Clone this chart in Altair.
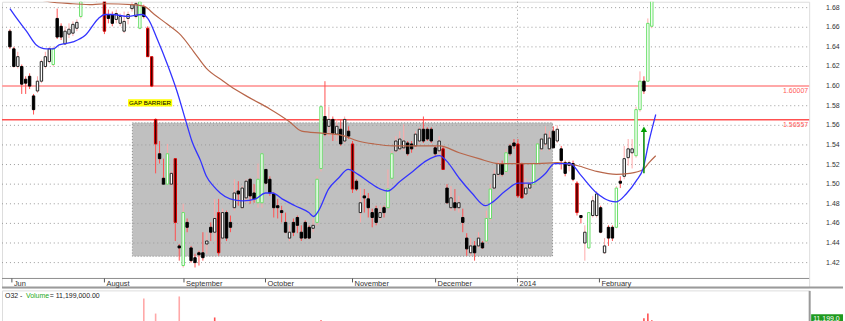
import altair as alt
import pandas as pd

# ---------------- data ----------------
kind = ["b","b","w","b","b","b","b","w","w","w",
        "w","g","b","b","w","w","w","w","g","w",
        "b","w","b","w","r","b","b","w","w","w",
        "w","w","w","g","b","r","r","r","b","b",
        "g","w","r","b","g","b","b","b","b","b",
        "w","b","w","r","w","b","b","w","b","w",
        "w","b","b","g","g","b","b","b","b","b",
        "b","w","b","b","b","b","b","w","g","g",
        "b","w","b","w","b","w","b","r","b","w",
        "b","b","b","b","w","b","g","g","w","w",
        "w","b","b","w","w","b","b","b","b","w",
        "r","b","w","b","w","b","b","w","b","w",
        "b","g","g","w","w","b","g","b","b","r",
        "r","w","w","g","g","w","w","w","b","w",
        "b","b","w","b","r","b","w","g","w","w",
        "b","w","b","b","g","b","w","w","w","g",
        "g","b","g","g"]
opens = [1.656,1.638,1.620,1.620,1.607,1.610,1.590,1.595,1.605,1.620,
         1.625,1.622,1.669,1.661,1.643,1.653,1.654,1.659,1.671,1.688,
         1.696,1.689,1.694,1.690,1.692,1.673,1.673,1.668,1.664,1.656,
         1.669,1.679,1.671,1.659,1.681,1.659,1.630,1.566,1.531,1.506,
         1.500,1.500,1.526,1.437,1.417,1.461,1.435,1.425,1.430,1.430,
         1.439,1.456,1.451,1.471,1.445,1.471,1.461,1.476,1.493,1.476,
         1.486,1.505,1.491,1.481,1.481,1.515,1.505,1.490,1.478,1.473,
         1.461,1.445,1.461,1.466,1.451,1.461,1.456,1.455,1.461,1.516,
         1.569,1.559,1.566,1.551,1.556,1.544,1.554,1.541,1.503,1.471,
         1.488,1.485,1.471,1.475,1.466,1.476,1.476,1.506,1.534,1.536,
         1.537,1.542,1.541,1.539,1.544,1.556,1.556,1.556,1.537,1.534,
         1.536,1.496,1.476,1.481,1.476,1.466,1.445,1.430,1.437,1.437,
         1.440,1.442,1.465,1.496,1.510,1.521,1.513,1.539,1.542,1.541,
         1.521,1.490,1.496,1.500,1.521,1.536,1.541,1.536,1.554,1.544,
         1.536,1.522,1.519,1.521,1.501,1.468,1.440,1.435,1.468,1.468,
         1.476,1.430,1.456,1.456,1.456,1.503,1.508,1.527,1.532,1.529,
         1.576,1.605,1.605,1.661]
highs = [1.658,1.640,1.635,1.622,1.610,1.613,1.592,1.610,1.627,1.635,
         1.640,1.640,1.679,1.664,1.661,1.664,1.666,1.668,1.691,1.697,
         1.699,1.697,1.697,1.699,1.694,1.678,1.676,1.678,1.674,1.676,
         1.676,1.686,1.686,1.689,1.683,1.661,1.630,1.567,1.544,1.526,
         1.541,1.513,1.526,1.439,1.480,1.465,1.437,1.429,1.432,1.451,
         1.451,1.461,1.485,1.485,1.475,1.473,1.468,1.505,1.503,1.498,
         1.505,1.506,1.500,1.521,1.531,1.515,1.508,1.492,1.485,1.478,
         1.471,1.458,1.465,1.468,1.458,1.463,1.458,1.465,1.508,1.579,
         1.605,1.579,1.569,1.566,1.566,1.569,1.559,1.544,1.505,1.496,
         1.495,1.491,1.475,1.478,1.478,1.478,1.515,1.534,1.549,1.554,
         1.561,1.544,1.544,1.554,1.558,1.569,1.558,1.558,1.539,1.549,
         1.539,1.500,1.498,1.495,1.488,1.475,1.450,1.445,1.442,1.451,
         1.442,1.473,1.500,1.515,1.524,1.524,1.536,1.541,1.546,1.546,
         1.522,1.506,1.503,1.522,1.542,1.547,1.559,1.554,1.559,1.560,
         1.539,1.524,1.524,1.524,1.503,1.468,1.458,1.471,1.488,1.493,
         1.478,1.445,1.458,1.458,1.498,1.508,1.539,1.546,1.546,1.579,
         1.615,1.610,1.669,1.694]
lows = [1.638,1.619,1.618,1.592,1.592,1.597,1.571,1.593,1.603,1.618,
        1.623,1.620,1.648,1.647,1.642,1.649,1.651,1.656,1.669,1.686,
        1.688,1.687,1.686,1.687,1.653,1.664,1.661,1.664,1.661,1.654,
        1.663,1.676,1.669,1.658,1.669,1.630,1.599,1.511,1.521,1.500,
        1.500,1.498,1.442,1.422,1.415,1.451,1.420,1.415,1.417,1.422,
        1.429,1.442,1.442,1.427,1.444,1.442,1.451,1.473,1.478,1.475,
        1.481,1.480,1.481,1.476,1.476,1.500,1.488,1.466,1.465,1.461,
        1.450,1.442,1.447,1.450,1.442,1.444,1.444,1.451,1.458,1.513,
        1.549,1.549,1.544,1.544,1.539,1.542,1.546,1.491,1.493,1.461,
        1.471,1.466,1.456,1.458,1.463,1.466,1.475,1.505,1.532,1.534,
        1.534,1.529,1.532,1.536,1.542,1.542,1.544,1.542,1.528,1.531,
        1.515,1.480,1.473,1.473,1.471,1.451,1.427,1.427,1.422,1.435,
        1.434,1.440,1.463,1.495,1.508,1.508,1.511,1.529,1.536,1.486,
        1.485,1.488,1.493,1.498,1.521,1.534,1.539,1.534,1.537,1.542,
        1.515,1.508,1.513,1.503,1.468,1.460,1.422,1.434,1.466,1.466,
        1.450,1.429,1.437,1.442,1.455,1.496,1.505,1.519,1.516,1.527,
        1.574,1.592,1.605,1.659]
closes = [1.640,1.620,1.630,1.602,1.603,1.600,1.576,1.605,1.625,1.630,
          1.638,1.638,1.650,1.650,1.656,1.658,1.663,1.665,1.686,1.694,
          1.690,1.695,1.688,1.696,1.656,1.669,1.664,1.674,1.671,1.666,
          1.673,1.683,1.684,1.686,1.671,1.630,1.600,1.541,1.526,1.500,
          1.531,1.511,1.461,1.435,1.471,1.456,1.422,1.420,1.428,1.425,
          1.442,1.451,1.465,1.430,1.471,1.445,1.456,1.491,1.490,1.496,
          1.503,1.488,1.485,1.505,1.531,1.501,1.491,1.476,1.476,1.471,
          1.451,1.451,1.451,1.458,1.445,1.445,1.445,1.458,1.505,1.579,
          1.551,1.566,1.552,1.559,1.541,1.566,1.549,1.495,1.495,1.481,
          1.486,1.476,1.466,1.461,1.471,1.471,1.495,1.531,1.544,1.546,
          1.544,1.531,1.536,1.551,1.556,1.544,1.546,1.544,1.531,1.544,
          1.515,1.481,1.486,1.476,1.481,1.461,1.434,1.437,1.430,1.445,
          1.435,1.465,1.495,1.510,1.521,1.510,1.532,1.531,1.539,1.488,
          1.486,1.496,1.500,1.521,1.541,1.546,1.551,1.547,1.537,1.556,
          1.524,1.511,1.522,1.505,1.471,1.466,1.451,1.471,1.483,1.490,
          1.451,1.437,1.445,1.445,1.496,1.501,1.526,1.536,1.536,1.576,
          1.605,1.595,1.664,1.691]

blue_idx = [0,1.75,4.2,6.7,9.2,11,12.5,16,19.2,22.5,24.2,26,30,33.5,35,37.4,40,42.4,44.7,46.2,
            48.4,49.9,51.7,53.4,55.9,59.2,62.4,64.9,66.7,69.1,72.4,75.9,77.1,78.4,80.9,83.4,85.9,
            88.4,90.9,94.1,95.9,99.1,102.3,105.8,109.1,110.8,114.1,117.3,120.8,122.3,125.8,129.1,
            132.3,135.8,138.3,142.3,144.8,149,152.3,154,156.5,159,160.8,162.3,164]
blue_val = [1.679,1.669,1.656,1.642,1.638,1.638,1.642,1.645,1.652,1.669,1.673,1.673,1.671,1.673,
            1.669,1.648,1.622,1.595,1.564,1.544,1.524,1.508,1.498,1.491,1.485,1.483,1.485,1.491,
            1.491,1.485,1.478,1.471,1.467,1.473,1.495,1.506,1.515,1.510,1.503,1.495,1.493,1.503,
            1.513,1.524,1.529,1.524,1.506,1.491,1.478,1.481,1.493,1.501,1.501,1.510,1.521,1.521,
            1.510,1.491,1.483,1.482,1.490,1.503,1.516,1.544,1.571]
brown_idx = [6.7,10,16,21,24.2,31,34.2,36.7,40,43.4,46.7,49.9,54.2,55.9,60.9,65.9,70.9,74.1,79.1,
             84.1,88.4,92.4,97.4,104.1,109.1,114.1,119.1,124.1,129.1,134,139,144,149,154,157.3,
             160.8,162.3,164]
brown_val = [1.689,1.686,1.684,1.683,1.684,1.683,1.681,1.673,1.663,1.652,1.635,1.618,1.605,1.600,
             1.588,1.577,1.564,1.554,1.552,1.550,1.544,1.541,1.539,1.539,1.539,1.532,1.526,1.521,
             1.521,1.521,1.522,1.519,1.513,1.510,1.511,1.515,1.522,1.529]

months = ["Jun", "August", "September", "October", "November", "December", "2014", "February"]
month_pos = [0.5, 24.0, 44.2, 64.9, 87.0, 108.1, 128.9, 149.7]
year_pos = [128.9]

grid_levels = [1.42, 1.44, 1.46, 1.48, 1.50, 1.52, 1.54, 1.56, 1.58, 1.60, 1.62, 1.64, 1.66, 1.68]
grid_labels = ["1.42", "1.44", "1.46", "1.48", "1.50", "1.52", "1.54", "1.56", "1.58", "1.60",
               "1.62", "1.64", "1.66", "1.68"]
level_vals = [1.60007, 1.56557]
level_names = ["1.60007", "1.56557"]
level_kind = ["pink", "red"]

box_idx = [31.1, 137.8]
box_price = [1.5625, 1.4265]

gap_text = ["GAP BARRIER"]
gap_idx = [30.0]
gap_idx_end = [41.2]
gap_price = [1.5828]
gap_top = [1.5866]
gap_bot = [1.5791]

arrow_idx = [161]
arrow_low = [1.511]
arrow_tip = [1.556]

vol_idx = [34, 35, 37, 42, 43, 52, 79, 161, 162, 163]
vol_val = [72, 4, 30, 8, 78, 19, 11, 17, 30, 11.199]
vol_dir = ["down", "down", "down", "down", "down", "up", "up", "up", "up", "up"]

# ---------------- frames ----------------
candles = pd.DataFrame({"idx": list(range(len(kind))), "kind": kind, "open": opens,
                        "high": highs, "low": lows, "close": closes})
blue = pd.DataFrame({"idx": blue_idx, "v": blue_val})
brown = pd.DataFrame({"idx": brown_idx, "v": brown_val})
mon = pd.DataFrame({"pos": month_pos, "label": months})
grid = pd.DataFrame({"lv": grid_levels, "lab": grid_labels})
levels = pd.DataFrame({"lv": level_vals, "name": level_names, "k": level_kind})
box = pd.DataFrame({"x1": [box_idx[0]], "x2": [box_idx[1]], "y1": [box_price[0]], "y2": [box_price[1]]})
gap = pd.DataFrame({"idx": gap_idx, "idx2": gap_idx_end, "p": gap_price, "top": gap_top,
                    "bot": gap_bot, "t": gap_text})
arrow = pd.DataFrame({"idx": arrow_idx, "lo": arrow_low, "tip": arrow_tip})
vol = pd.DataFrame({"idx": vol_idx, "v": vol_val, "d": vol_dir})
year = pd.DataFrame({"pos": year_pos})

FONT = "Liberation Sans"
W = 811
H = 287
xs = alt.Scale(domain=[-0.75, 201.7], nice=False, zero=False)
ys = alt.Scale(domain=[1.3947, 1.686], nice=False, zero=False)
yaxis = alt.Axis(orient="right", values=grid_levels, title=None, grid=False, labels=False,
                 ticks=True, tickSize=2, tickColor="#777777",
                 domainColor="#9a9a9a", domainWidth=2)

def X(f):
    return alt.X(f, type="quantitative", scale=xs, axis=None)

def Y(f, axis=None):
    return alt.Y(f, type="quantitative", scale=ys, axis=axis)

kinds_dom = ["w", "b", "g", "r"]

rect = alt.Chart(box).mark_rect(fill="#c0c0c0", stroke="#8a8a8a", strokeDash=[1, 2],
                                strokeWidth=1).encode(
    x=X("x1"), x2="x2", y=Y("y1", yaxis), y2="y2")

gridl = alt.Chart(grid).mark_rule(color="#9a9a9a", strokeDash=[1, 3], strokeWidth=1).encode(
    y=Y("lv"), x=alt.value(0), x2=alt.value(W))

gridt = alt.Chart(grid).mark_text(align="left", baseline="middle", fontSize=7, font=FONT,
                                  color="#333333").encode(
    y=Y("lv"), x=alt.value(828), text="lab:N")

yearl = alt.Chart(year).mark_rule(color="#9a9a9a", strokeDash=[1, 3], strokeWidth=1).encode(
    x=X("pos"), y=alt.value(0), y2=alt.value(H))

levl = alt.Chart(levels).mark_rule().encode(
    y=Y("lv"), x=alt.value(0), x2=alt.value(W),
    color=alt.Color("k:N", scale=alt.Scale(domain=["pink", "red"], range=["#ffa8a8", "#ff5050"]), legend=None),
    strokeWidth=alt.StrokeWidth("k:N", scale=alt.Scale(domain=["pink", "red"], range=[2, 1.5]), legend=None))

levt = alt.Chart(levels).mark_text(align="right", baseline="top", dy=1, fontSize=7, font=FONT,
                                   color="#ff5a5a").encode(
    y=Y("lv"), x=alt.value(810), text="name:N")

wicks = alt.Chart(candles).mark_rule(strokeWidth=1, clip=True).encode(
    x=X("idx"), y=Y("low"), y2="high",
    color=alt.Color("kind:N", scale=alt.Scale(domain=kinds_dom,
                    range=["#444444", "#222222", "#66e066", "#ff3030"]), legend=None))

bodies = alt.Chart(candles).mark_bar(size=2.4, strokeWidth=1, clip=True).encode(
    x=X("idx"), y=Y("open"), y2="close",
    fill=alt.Fill("kind:N", scale=alt.Scale(domain=kinds_dom,
                  range=["#ffffff", "#000000", "#ffffff", "#3a0000"]), legend=None),
    stroke=alt.Stroke("kind:N", scale=alt.Scale(domain=kinds_dom,
                      range=["#222222", "#000000", "#66e066", "#e00000"]), legend=None))

blue_line = alt.Chart(blue).mark_line(color="#3333ff", strokeWidth=1.3, clip=True,
                                      interpolate="monotone").encode(x=X("idx"), y=Y("v"))
brown_line = alt.Chart(brown).mark_line(color="#b8664a", strokeWidth=1.2, clip=True,
                                        interpolate="monotone").encode(x=X("idx"), y=Y("v"))

arrow_stem = alt.Chart(arrow).mark_rule(color="#008800", strokeWidth=1.5).encode(
    x=X("idx"), y=Y("lo"), y2="tip")
arrow_head = alt.Chart(arrow).mark_point(shape="triangle-up", filled=True, color="#00a000",
                                         size=40, opacity=1).encode(x=X("idx"), y=Y("tip"))

gap_bg = alt.Chart(gap).mark_rect(color="#ffff00").encode(
    x=X("idx"), x2="idx2", y=Y("top"), y2="bot")
gap_txt = alt.Chart(gap).mark_text(align="left", baseline="middle", dx=1, fontSize=6.2, font=FONT,
                                   color="#000000").encode(x=X("idx"), y=Y("p"), text="t:N")

band1 = alt.Chart(year).mark_rule(color="#8c8c8c", strokeWidth=1).encode(
    x=alt.value(0), x2=alt.value(W), y=alt.value(278))
band2 = alt.Chart(year).mark_rule(color="#9a9a9a", strokeWidth=2).encode(
    x=alt.value(0), x2=alt.value(845), y=alt.value(287))
mticks = alt.Chart(mon).mark_rule(color="#555555", strokeWidth=1).encode(
    x=X("pos"), y=alt.value(278), y2=alt.value(282))
mlabels = alt.Chart(mon).mark_text(align="left", baseline="middle", dx=2, dy=1, fontSize=7.5,
                                   font=FONT, color="#333333").encode(
    x=X("pos"), y=alt.value(282.5), text="label:N")

top = alt.layer(rect, gridl, yearl, levl, wicks, bodies, brown_line, blue_line, arrow_stem,
                arrow_head, levt, gap_bg, gap_txt, gridt, band1, band2, mticks, mlabels).properties(
    width=W, height=H)

# ---------------- volume panel ----------------
vs = alt.Scale(domain=[0, 95], nice=False, zero=True)
vaxis = alt.Axis(orient="right", title=None, labels=False, ticks=False, grid=False,
                 domainColor="#9a9a9a", domainWidth=2)
vbars = alt.Chart(vol).mark_bar(size=1.6).encode(
    x=X("idx"), y=alt.Y("v:Q", scale=vs, axis=vaxis),
    color=alt.Color("d:N", scale=alt.Scale(domain=["down", "up"], range=["#ff5a5a", "#33b033"]), legend=None))

t1 = alt.Chart(year).mark_text(align="left", baseline="middle", fontSize=7, font=FONT,
                               color="#222222", text="O32 - ").encode(x=alt.value(3), y=alt.value(5.5))
t2 = alt.Chart(year).mark_text(align="left", baseline="middle", fontSize=7, font=FONT,
                               color="#22aa22", text="Volume").encode(x=alt.value(24), y=alt.value(5.5))
t3 = alt.Chart(year).mark_text(align="left", baseline="middle", fontSize=7, font=FONT,
                               color="#222222", text="= 11,199,000.00").encode(x=alt.value(48), y=alt.value(5.5))
vbox = alt.Chart(year).mark_rect(color="#1f9a1f").encode(
    x=alt.value(813), x2=alt.value(845), y=alt.value(24), y2=alt.value(34))
vtxt = alt.Chart(year).mark_text(align="left", baseline="middle", fontSize=7, font=FONT,
                                 color="#ffffff", text="11,199.0").encode(x=alt.value(815), y=alt.value(28.5))

volc = alt.layer(vbars, t1, t2, t3, vbox, vtxt).properties(width=W, height=34)

chart = alt.vconcat(top, volc, spacing=0, padding=0).configure_view(stroke=None).configure(
    background="#ffffff")

chart.save("out.html", embed_options={"renderer": "svg", "actions": False})
